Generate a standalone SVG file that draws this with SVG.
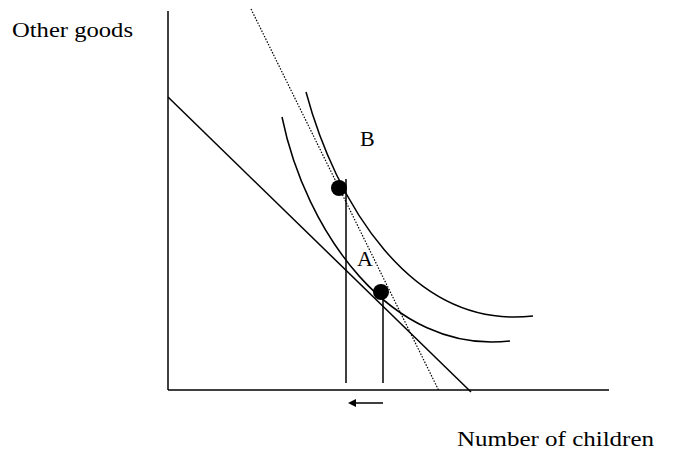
<svg xmlns="http://www.w3.org/2000/svg" width="684" height="453" viewBox="0 0 684 453">
<style>
.ln{stroke:#000;stroke-width:1.5;fill:none}
.t{font-family:"Liberation Serif",serif;font-size:22px;fill:#000}
</style>
<defs>
<marker id="ah" viewBox="0 0 10 10" refX="0" refY="5" markerWidth="10" markerHeight="8" markerUnits="userSpaceOnUse" orient="auto"><path d="M0,0L10,5L0,10z" fill="#000"/></marker>
</defs>
<rect width="684" height="453" fill="#fff"/>
<g id="axes">
<line class="ln" x1="168" y1="11" x2="168" y2="390"/>
<line class="ln" x1="168" y1="390" x2="609" y2="390"/>
</g>
<g id="connectors">
<line class="ln" x1="168" y1="97" x2="471" y2="392"/>
<line x1="251" y1="9" x2="439" y2="391" stroke="#000" stroke-width="1.2" stroke-dasharray="1.5,1.5"/>
<path class="ln" d="M306,92 C335,200 410,330 533,316"/>
<path class="ln" d="M282,117 C305,230 390,355 510,341"/>
<line class="ln" x1="346" y1="179" x2="346" y2="383"/>
<line class="ln" x1="383" y1="292" x2="383" y2="383"/>
<line class="ln" x1="383" y1="403" x2="356" y2="403" marker-end="url(#ah)"/>
</g>
<g id="B"><circle cx="339" cy="188" r="8"/><text class="t" x="360" y="146">B</text></g>
<g id="A"><circle cx="381" cy="292" r="8"/><text class="t" x="357" y="266">A</text></g>
<text class="t" x="12" y="37" textLength="121" lengthAdjust="spacingAndGlyphs">Other goods</text>
<text class="t" x="457" y="446" textLength="197" lengthAdjust="spacingAndGlyphs">Number of children</text>
</svg>
